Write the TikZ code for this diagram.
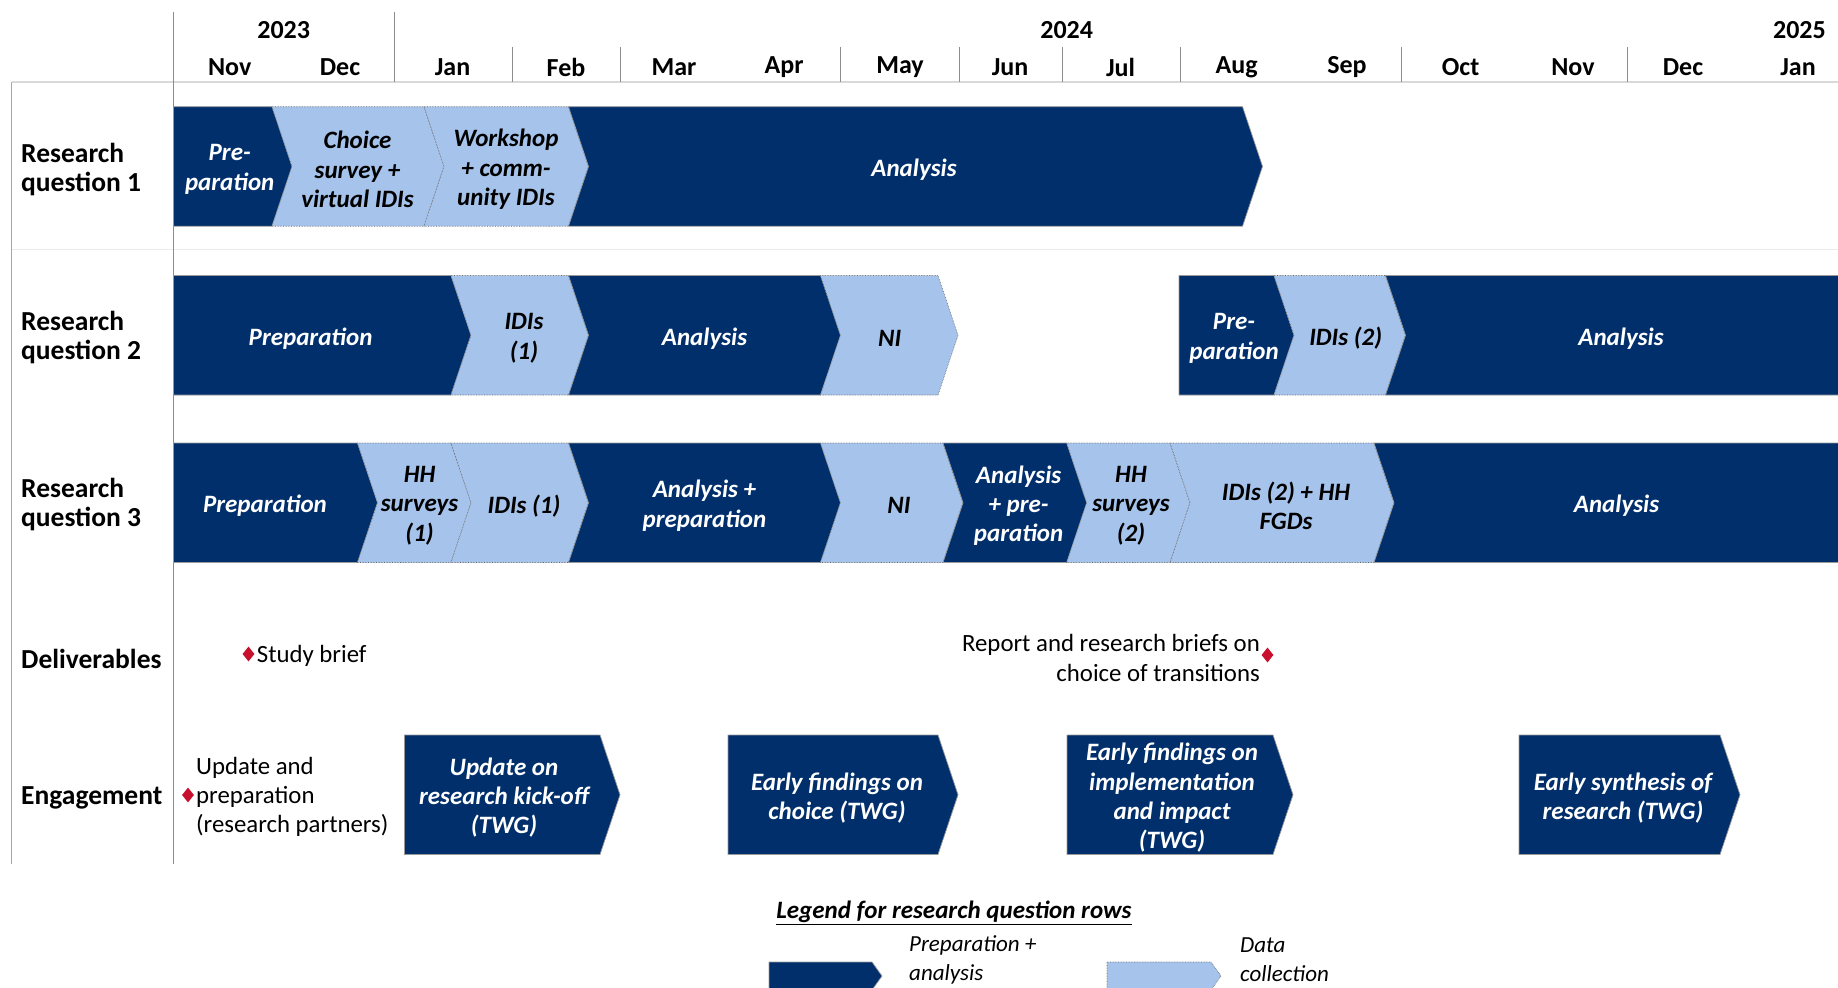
\documentclass[tikz,border=0pt]{standalone}
\usepackage{fontspec}
\setmainfont{Carlito}
\usetikzlibrary{shapes.geometric}
\definecolor{navy}{RGB}{0,47,108}
\definecolor{lightb}{RGB}{165,195,235}
\definecolor{dred}{RGB}{200,16,46}
\definecolor{tickgray}{RGB}{140,140,140}
\newcommand\barfont{\fontsize{25bp}{29.3bp}\selectfont\bfseries\itshape}
\newcommand\labfont{\fontsize{27.5bp}{29.3bp}\selectfont\bfseries}
\newcommand\monfont{\fontsize{26bp}{29.3bp}\selectfont\bfseries}
\newcommand\delfont{\fontsize{24.8bp}{29.3bp}\selectfont}
\newcommand\legfont{\fontsize{23bp}{29bp}\selectfont\itshape}
\newcommand\bh{119.5}
\newcommand\tp{20}
% #1 name #2 D/L #3 type #4 left #5 right #6 top #7 text x #8 text
\newcommand\gseg[8]{%
  \pgfmathsetmacro\gbot{#6+\bh}%
  \pgfmathsetmacro\gmid{#6+\bh/2}%
  \ifcase#3
    \path[seg#2] (#4,#6) -- (#5,#6) -- (#5+\tp,\gmid) -- (#5,\gbot) -- (#4,\gbot) -- cycle;
  \or
    \path[seg#2] (#4,#6) -- (#5,#6) -- (#5+\tp,\gmid) -- (#5,\gbot) -- (#4,\gbot) -- (#4+\tp,\gmid) -- cycle;
  \or
    \path[seg#2] (#4,#6) -- (#5,#6) -- (#5,\gbot) -- (#4,\gbot) -- (#4+\tp,\gmid) -- cycle;
  \fi
  \node[seg#2txt] (#1) at (#7,\gmid) {#8};%
}
\begin{document}
\begin{tikzpicture}[x=1bp,y=-1bp,
  segD/.style={fill=navy, draw=black!40, line width=0.7bp},
  segL/.style={fill=lightb, draw=black!60, densely dotted, line width=0.6bp},
  segDtxt/.style={text=white, font=\barfont, align=center, inner sep=0, yshift=-3bp},
  segLtxt/.style={text=black, font=\barfont, align=center, inner sep=0, yshift=-3bp},
  rowlab/.style={font=\labfont, anchor=west, align=left, inner sep=0, yshift=-2.5bp},
  month/.style={font=\monfont, inner sep=0, yshift=-1.5bp},
  deliv/.style={font=\delfont, inner sep=0, yshift=-2bp},
  diam/.style={diamond, fill=dred, minimum width=12bp, minimum height=15bp, inner sep=0},
  tick/.style={draw=tickgray, line width=1bp},
  legtxt/.style={font=\legfont, align=left, anchor=west, inner sep=0}]
\useasboundingbox (0,0) rectangle (1838,987);
\fill[white] (0,0) rectangle (1838,987);
\clip (0,0) rectangle (1838,987);

% grid lines
\draw[draw=black!15, line width=1.5bp] (11.7,82) -- (1838,82);
\draw[draw=black!8, line width=1.5bp] (11.7,249.7) -- (1838,249.7);
\draw[draw=black!35, line width=1.2bp] (11.7,82) -- (11.7,864);
\draw[tick] (173.5,12) -- (173.5,864);
\draw[tick] (394,12) -- (394,82);
\foreach \xx in {512,620,840.5,959,1062,1180,1401,1627}
  \draw[tick] (\xx,47) -- (\xx,82);

% years and months
\node[month] (y23) at (283.7,29) {2023};
\node[month] (y24) at (1066.7,29) {2024};
\node[month, anchor=east] (y25) at (1826,29) {2025};
\foreach \mx/\mn [count=\i] in {229.7/Nov,340/Dec,452.5/Jan,566/Feb,674/Mar,784/Apr,900/May,1010/Jun,1120.6/Jul,1236.7/Aug,1347/Sep,1460.6/Oct,1573/Nov,1683/Dec,1798/Jan}
  \node[month] (m\i) at (\mx,65.6) {\mn};

% row labels
\node[rowlab] (r1) at (21,167) {Research\\question 1};
\node[rowlab] (r2) at (21,334.7) {Research\\question 2};
\node[rowlab] (r3) at (21,502) {Research\\question 3};
\node[rowlab] (r4) at (21,656) {Deliverables};
\node[rowlab] (r5) at (21,795) {Engagement};

% research question 1
\gseg{q1a}{D}{0}{173.5}{272}{106.7}{229.7}{Pre-\\paration}
\gseg{q1b}{L}{1}{272}{424}{106.7}{357.5}{Choice\\survey +\\virtual IDIs}
\gseg{q1c}{L}{1}{424}{568.5}{106.7}{506}{Workshop\\+ comm-\\unity IDIs}
\gseg{q1d}{D}{1}{568.5}{1242.5}{106.7}{914}{Analysis}

% research question 2
\gseg{q2a}{D}{0}{173.5}{451}{275.5}{310.6}{Preparation}
\gseg{q2b}{L}{1}{451}{568.5}{275.5}{524}{IDIs\\(1)}
\gseg{q2c}{D}{1}{568.5}{820.5}{275.5}{704.5}{Analysis}
\gseg{q2d}{L}{1}{820.5}{938}{275.5}{889.7}{NI}
\gseg{q2e}{D}{0}{1179}{1274}{275.5}{1234}{Pre-\\paration}
\gseg{q2f}{L}{1}{1274}{1385.5}{275.5}{1345.7}{IDIs (2)}
\gseg{q2g}{D}{2}{1385.5}{1842}{275.5}{1621}{Analysis}

% research question 3
\gseg{q3a}{D}{0}{173.5}{357.5}{443}{265}{Preparation}
\gseg{q3b}{L}{1}{357.5}{451}{443}{419.6}{HH\\surveys\\(1)}
\gseg{q3c}{L}{1}{451}{568.5}{443}{524}{IDIs (1)}
\gseg{q3d}{D}{1}{568.5}{820.5}{443}{704.5}{Analysis +\\preparation}
\gseg{q3e}{L}{1}{820.5}{943}{443}{899}{NI}
\gseg{q3f}{D}{1}{943}{1066.7}{443}{1018.6}{Analysis\\+ pre-\\paration}
\gseg{q3g}{L}{1}{1066.7}{1170}{443}{1131}{HH\\surveys\\(2)}
\gseg{q3h}{L}{1}{1170}{1374}{443}{1286}{IDIs (2) + HH\\FGDs}
\gseg{q3i}{D}{2}{1374}{1842}{443}{1616.5}{Analysis}

% deliverables
\node[diam] (d1) at (248.5,654) {};
\node[deliv, anchor=west] (d1t) at (256.7,654) {Study brief};
\node[diam] (d2) at (1267.5,655) {};
\node[deliv, anchor=east, align=right] (d2t) at (1260,656) {Report and research briefs on\\choice of transitions};

% engagement
\node[diam] (g0) at (188,795) {};
\node[deliv, anchor=west, align=left] (g0t) at (196,795) {Update and\\preparation\\(research partners)};
\gseg{e1}{D}{0}{404.4}{600}{735}{504}{Update on\\research kick-off\\(TWG)}
\gseg{e2}{D}{0}{728}{938}{735}{837}{Early findings on\\choice (TWG)}
\gseg{e3}{D}{0}{1067}{1273}{735}{1172}{Early findings on\\implementation\\and impact\\(TWG)}
\gseg{e4}{D}{0}{1519}{1720}{735}{1623}{Early synthesis of\\research (TWG)}

% legend
\node[font=\fontsize{25bp}{29bp}\selectfont\bfseries\itshape, inner sep=0, yshift=-2bp] (leg) at (954,911) {\underline{Legend for research question rows}};
\path[segD] (769,962) -- (872,962) -- (882,976) -- (872,990) -- (769,990) -- cycle;
\path[segL] (1107,962) -- (1211,962) -- (1221,976) -- (1211,990) -- (1107,990) -- cycle;
\node[legtxt] (l1) at (909,960) {Preparation +\\analysis};
\node[legtxt] (l2) at (1240,960) {Data\\collection};
\end{tikzpicture}
\end{document}
